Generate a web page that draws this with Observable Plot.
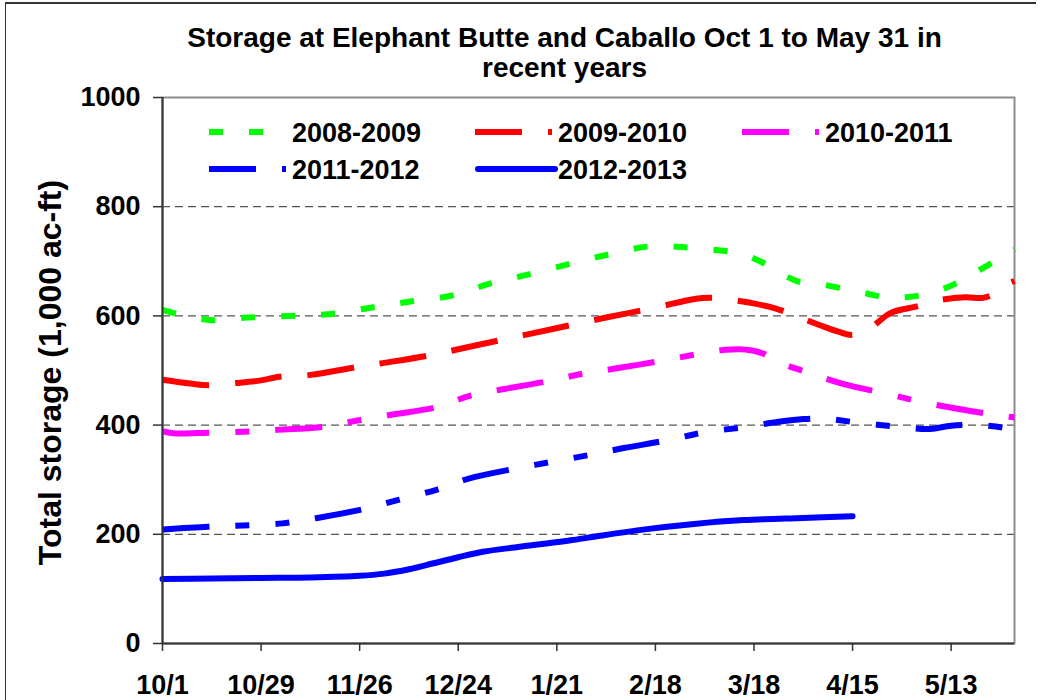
<!DOCTYPE html>
<html>
<head>
<meta charset="utf-8">
<script src="https://cdn.jsdelivr.net/npm/d3@7"></script>
<script src="https://cdn.jsdelivr.net/npm/@observablehq/plot@0.6"></script>
<style>
  html, body { margin: 0; padding: 0; background: #fff; }
  #wrap { position: relative; width: 1045px; height: 700px; overflow: hidden; font-family: "Liberation Sans", Arial, sans-serif; }
  #wrap svg { position: absolute; left: 0; top: 0; }
  #title { position: absolute; left: 0; top: 23px; width: 1129px; text-align: center; font-weight: bold; font-size: 28px; line-height: 30px; color: #000; }
  #border { position: absolute; left: 5px; top: 2px; width: 1030px; height: 720px; border-top: 2px solid #333; border-left: 1.5px solid #333; pointer-events: none; }
</style>
</head>
<body>
<div id="wrap">
  <div id="border"></div>
  <div id="title">Storage at Elephant Butte and Caballo Oct 1 to May 31 in<br>recent years</div>
</div>
<script>
// ---- Data (day offset from Oct 1, storage in 1,000 ac-ft) ----
const xTickDays = [0, 28, 56, 84, 112, 140, 168, 196, 224];
const xTickLabels = ["10/1", "10/29", "11/26", "12/24", "1/21", "2/18", "3/18", "4/15", "5/13"];
const yTicks = [0, 200, 400, 600, 800, 1000];
const gridValues = [200, 400, 600, 800];

const seriesNames = ["2008-2009", "2009-2010", "2010-2011", "2011-2012", "2012-2013"];

const days0809 = [0, 4, 14, 24, 36, 47, 59, 70, 82, 93, 104, 116, 127, 138, 150, 161, 164, 171, 174, 181, 187, 194, 200, 206, 211, 217, 222, 227, 232, 238, 242];
const vals0809 = [611, 604, 592, 597, 600, 603, 615, 626, 637, 659, 676, 696, 713, 727, 725, 718, 715, 696, 684, 662, 658, 649, 641, 633, 634, 640, 650, 665, 684, 706, 722];

const days0910 = [0, 8, 13, 21, 27, 34, 42, 55, 63, 76, 84, 97, 105, 118, 126, 139, 146, 152, 157, 160, 167, 174, 181, 188, 192, 196, 201, 207, 214, 220, 228, 233, 237, 240, 242];
const vals0910 = [483, 476, 473, 477, 481, 489, 492, 506, 514, 528, 539, 557, 568, 586, 597, 614, 624, 632, 633, 631, 624, 614, 597, 580, 571, 565, 578, 606, 617, 628, 634, 633, 643, 658, 664];

const days1011 = [0, 3, 13, 23, 32, 46, 55, 65, 78, 87, 97, 110, 120, 129, 142, 152, 160, 164, 167, 171, 174, 183, 193, 206, 215, 225, 238, 242];
const vals1011 = [389, 385, 386, 388, 391, 397, 408, 419, 433, 453, 466, 481, 495, 504, 518, 530, 538, 539, 537, 530, 518, 497, 476, 457, 443, 431, 417, 414];

const days1112 = [0, 13, 23, 34, 44, 57, 67, 78, 87, 100, 110, 121, 131, 144, 154, 165, 175, 182, 188, 197, 209, 218, 224, 232, 239, 242];
const vals1112 = [209, 214, 216, 220, 230, 246, 263, 282, 302, 320, 332, 345, 358, 373, 387, 396, 406, 411, 412, 405, 397, 393, 399, 400, 395, 390];

const days1213 = [0, 14, 28, 42, 56, 63, 70, 77, 84, 91, 100, 109, 116, 123, 137, 151, 165, 182, 196];
const vals1213 = [118, 119, 120, 121, 124, 128, 136, 147, 158, 168, 176, 183, 189, 196, 209, 219, 226, 230, 233];

const seriesDays = [days0809, days0910, days1011, days1112, days1213];
const seriesVals = [vals0809, vals0910, vals1011, vals1112, vals1213];

// ---- Styles ----
const seriesColors = ["#00ff00", "#ff0000", "#ff00ff", "#0000ff", "#0000ff"];
const seriesDash = ["14,26", "47,26", "47,26,14,26", "47,26,14,26,14,26", null];
const FONT = "Liberation Sans, Arial, sans-serif";

const seriesData = seriesNames.map((name, i) =>
  seriesDays[i].map((d, j) => ({ series: name, day: d, value: seriesVals[i][j] }))
);

const lineMarks = seriesData.map((data, i) =>
  Plot.line(data, {
    x: "day", y: "value",
    curve: "catmull-rom",
    stroke: seriesColors[i],
    strokeWidth: 6,
    strokeDasharray: seriesDash[i] || undefined,
    strokeLinecap: seriesDash[i] ? "butt" : "round",
    strokeLinejoin: "round"
  })
);

const chart = Plot.plot({
  width: 1045,
  height: 700,
  marginLeft: 162,
  marginRight: 31,
  marginTop: 97,
  marginBottom: 57,
  style: { fontFamily: FONT, background: "transparent", color: "#000" },
  x: { domain: [0, 242], label: null },
  y: { domain: [0, 1000], label: null },
  marks: [
    Plot.ruleY(gridValues, { stroke: "#555", strokeWidth: 1.3, strokeDasharray: "8,5" }),
    Plot.frame({ stroke: "#8c8c8c", strokeWidth: 2 }),
    ...lineMarks,
    Plot.ruleY([0], { stroke: "#333", strokeWidth: 2 }),
    Plot.ruleX([0], { stroke: "#333", strokeWidth: 2 }),
    Plot.axisX({
      ticks: xTickDays,
      tickFormat: d => xTickLabels[xTickDays.indexOf(d)],
      tickSize: 8, tickPadding: 23,
      fontSize: 27, fontWeight: "bold",
      stroke: "#333", strokeWidth: 1.5,
      label: null
    }),
    Plot.axisY({
      ticks: yTicks,
      tickFormat: d => String(d),
      tickSize: 9, tickPadding: 13,
      fontSize: 27, fontWeight: "bold",
      stroke: "#333", strokeWidth: 1.5,
      label: null
    }),
    Plot.text(["Total storage (1,000 ac-ft)"], {
      frameAnchor: "left", dx: -112, dy: 2, rotate: -90,
      textAnchor: "middle", lineAnchor: "middle",
      fontSize: 32, fontWeight: "bold", fill: "#000"
    })
  ]
});

const wrap = document.getElementById("wrap");
wrap.insertBefore(chart, wrap.firstChild);

// ---- Legend (inside plot area) ----
const legendCols = [209, 475, 742];
const legendRows = [132, 169];
const svg = d3.select(chart);
const lg = svg.append("g").attr("class", "legend");
seriesNames.forEach((name, i) => {
  const col = i % 3, row = Math.floor(i / 3);
  const x0 = legendCols[col], y = legendRows[row];
  const solid = !seriesDash[i];
  lg.append("line")
    .attr("x1", solid ? x0 + 3 : x0)
    .attr("x2", solid ? x0 + 80 : x0 + 77)
    .attr("y1", y).attr("y2", y)
    .attr("stroke", seriesColors[i])
    .attr("stroke-width", 6)
    .attr("stroke-linecap", solid ? "round" : "butt")
    .attr("stroke-dasharray", seriesDash[i] || null);
  lg.append("text")
    .attr("x", x0 + 83)
    .attr("y", y)
    .attr("dy", "0.36em")
    .attr("text-anchor", "start")
    .attr("font-family", FONT)
    .attr("font-size", 27)
    .attr("font-weight", "bold")
    .attr("fill", "#000")
    .text(name);
});
</script>
</body>
</html>
